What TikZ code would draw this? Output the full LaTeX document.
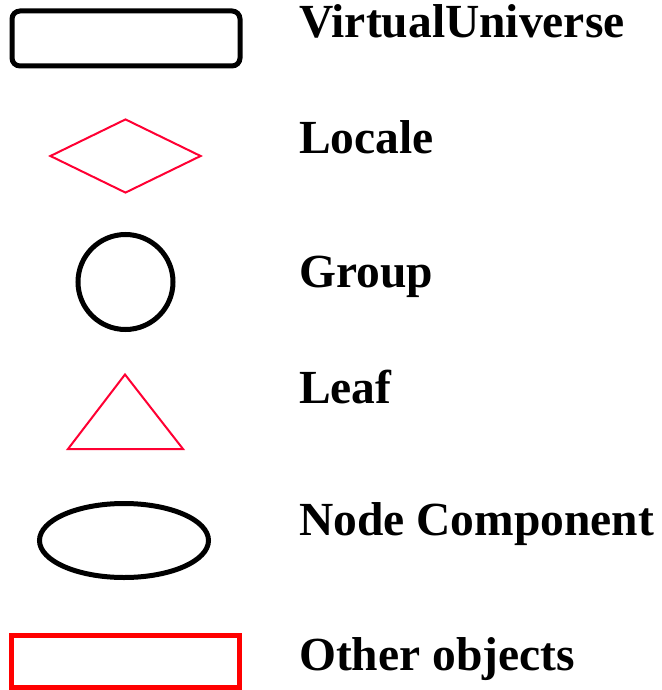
\documentclass[tikz,border=0pt]{standalone}
\usepackage{fontspec}
\setmainfont{Liberation Serif}
\usepackage{xcolor}
\usetikzlibrary{shapes.geometric}
\definecolor{localered}{RGB}{255,0,51}

\begin{document}
\begin{tikzpicture}[x=1pt,y=-1pt,
  vubox/.style={rectangle,draw,line width=5pt,rounded corners=8pt,inner sep=0pt,minimum width=228pt,minimum height=55pt},
  localebox/.style={diamond,draw=localered,line width=2pt,inner sep=0pt,minimum width=151pt,minimum height=74pt},
  groupbox/.style={circle,draw,line width=5pt,inner sep=0pt,minimum size=95pt},
  leafline/.style={draw=localered,line width=2pt},
  compbox/.style={ellipse,draw,line width=5pt,inner sep=0pt,minimum width=169pt,minimum height=74pt},
  otherbox/.style={rectangle,draw=red,line width=5pt,inner sep=0pt,minimum width=228pt,minimum height=52pt},
  legtext/.style={anchor=base west,inner sep=0pt,font=\fontsize{47.5}{52}\selectfont\bfseries}]
 \useasboundingbox (0,0) rectangle (661,690);

 \node at (126,38.5) [vubox] (vu) {};
 \node at (125.5,156) [localebox] (locale) {};
 \node at (125.5,282) [groupbox] (group) {};
 \draw[leafline] (125,374.5) -- (183,449) -- (68,449) -- cycle;
 \node at (124,540.5) [compbox] (comp) {};
 \node at (125.5,661.5) [otherbox] (other) {};

 \node at (299,38) [legtext] (vutext) {VirtualUniverse};
 \node at (299,153) [legtext] (localetext) {Locale};
 \node at (299,287) [legtext] (grouptext) {Group};
 \node at (299,403) [legtext] (leaftext) {Leaf};
 \node at (299,535) [legtext] (comptext) {Node Component};
 \node at (299,670) [legtext] (othertext) {Other objects};
\end{tikzpicture}
\end{document}
